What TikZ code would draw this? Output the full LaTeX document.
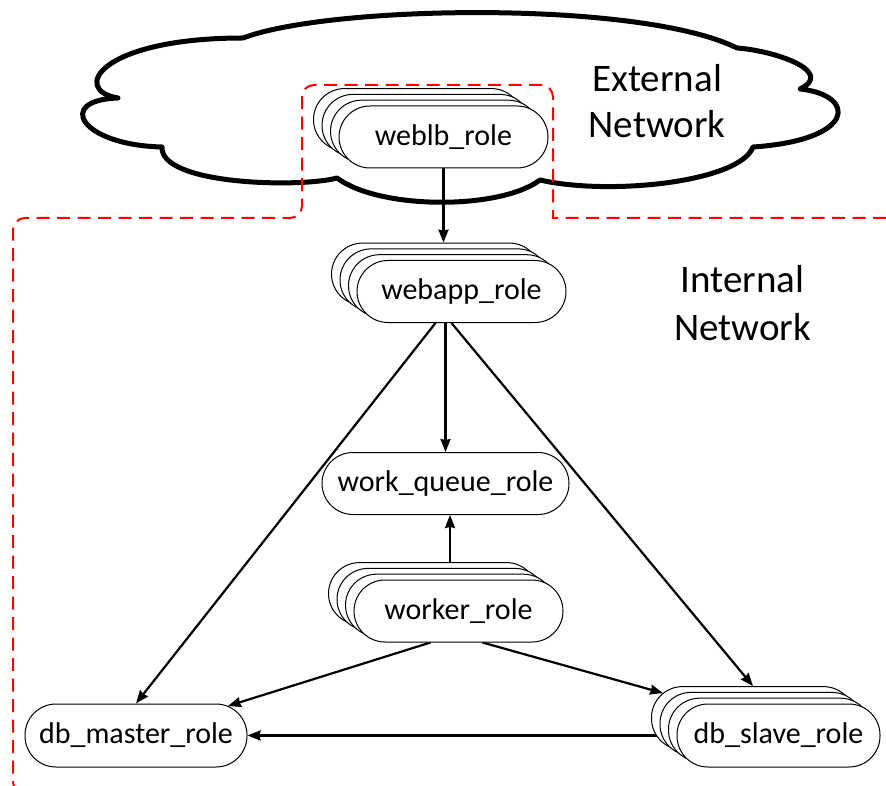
\documentclass[tikz,border=0pt]{standalone}
\usepackage{fontspec}
\setmainfont{Carlito}
\usetikzlibrary{arrows.meta}
\pgfdeclarelayer{cloudlayer}
\pgfdeclarelayer{linklayer}
\pgfsetlayers{cloudlayer,linklayer,main}

\tikzset{
  rolebox/.style={draw, line width=1pt, fill=white, rectangle,
    rounded corners=31pt, inner sep=0pt, font=\fontsize{30}{36}\selectfont},
  link/.style={line width=2.2pt, -{Stealth[length=13pt,width=10pt,inset=1pt]}},
  zone/.style={red, line width=2pt, dash pattern=on 13pt off 7.5pt},
  cloudline/.style={line width=5pt, fill=white, line join=round},
  netlabel/.style={anchor=base, inner sep=0pt, font=\fontsize{39}{46}\selectfont},
}

% a role drawn as a stack of identical boxes: #1 name, #2 x, #3 y,
% #4 width, #5 height, #6 label
\newcommand\rolestack[6]{%
  \foreach \k in {3,2,1}
    \node[rolebox, minimum width=#4pt, minimum height=#5pt]
      (#1-\k) at (#2-8.5*\k, #3+5.8*\k) {};
  \node[rolebox, minimum width=#4pt, minimum height=#5pt] (#1) at (#2,#3) {#6};
}

\begin{document}
\begin{tikzpicture}[x=1pt,y=1pt]
\useasboundingbox (0,0) rectangle (886,-786);
\clip (0,0) rectangle (886,-786);

% external network cloud
\begin{pgfonlayer}{cloudlayer}
\draw[cloudline] (243,-38)
  .. controls (330,-5) and (640,0) .. (737,-48)
  .. controls (777,-51) and (835,-72) .. (800,-89)
  .. controls (857,-95) and (857,-140) .. (753,-147)
  .. controls (740,-182) and (610,-196) .. (540,-180)
  .. controls (500,-210) and (380,-210) .. (337,-178)
  .. controls (300,-188) and (160,-185) .. (162,-147)
  .. controls (80,-145) and (55,-100) .. (118,-98)
  .. controls (70,-90) and (100,-38) .. (243,-38) -- cycle;
\end{pgfonlayer}

% roles
\rolestack{weblb}{443.5}{-137}{209}{62}{weblb\_role}
\rolestack{webapp}{461.5}{-291.5}{209}{62}{webapp\_role}
\node[rolebox, minimum width=247pt, minimum height=62pt] (workq) at (445.5,-483.5) {work\_queue\_role};
\rolestack{worker}{458.5}{-611}{209}{62}{worker\_role}
\node[rolebox, minimum width=222pt, minimum height=63pt] (dbmaster) at (136,-735.5) {db\_master\_role};
\rolestack{dbslave}{778.5}{-735.5}{203}{63}{db\_slave\_role}

% network labels
\node[netlabel] (ext1) at (657,-92) {External};
\node[netlabel] (ext2) at (657,-138) {Network};
\node[netlabel] (int1) at (742.5,-293) {Internal};
\node[netlabel] (int2) at (742.5,-340) {Network};

\coordinate (qin) at ([xshift=4.5pt]workq.south);

\begin{pgfonlayer}{linklayer}
% internal network boundary: square inner corners, rounded outer ones
\draw[zone] (886,-218) -- (553,-218)
  {[rounded corners=12pt] -- (553,-85) -- (302,-85) -- (302,-218)}
  -- (25,-218)
  {[rounded corners=12pt] -- (13,-218) -- (13,-794) -- (60,-794)};
% connections
\draw[link] (weblb.south) -- (weblb.south |- webapp-3.north);
\draw[link] (workq.north |- webapp.south) -- (workq.north);
\draw[link] ([xshift=-26pt]webapp.south) -- (dbmaster.north);
\draw[link] ([xshift=-10pt]webapp.south) -- (dbslave-3.north);
\draw[link] (qin |- worker-3.north) -- (qin);
\draw[link] ([xshift=-28pt]worker.south) -- ([xshift=92pt,yshift=-2.5pt]dbmaster.north);
\draw[link] ([xshift=24pt]worker.south) -- ([xshift=-90pt,yshift=-7pt]dbslave-3.north);
\draw[link] (dbslave.center) -- (dbmaster.east);
\end{pgfonlayer}
\end{tikzpicture}
\end{document}
